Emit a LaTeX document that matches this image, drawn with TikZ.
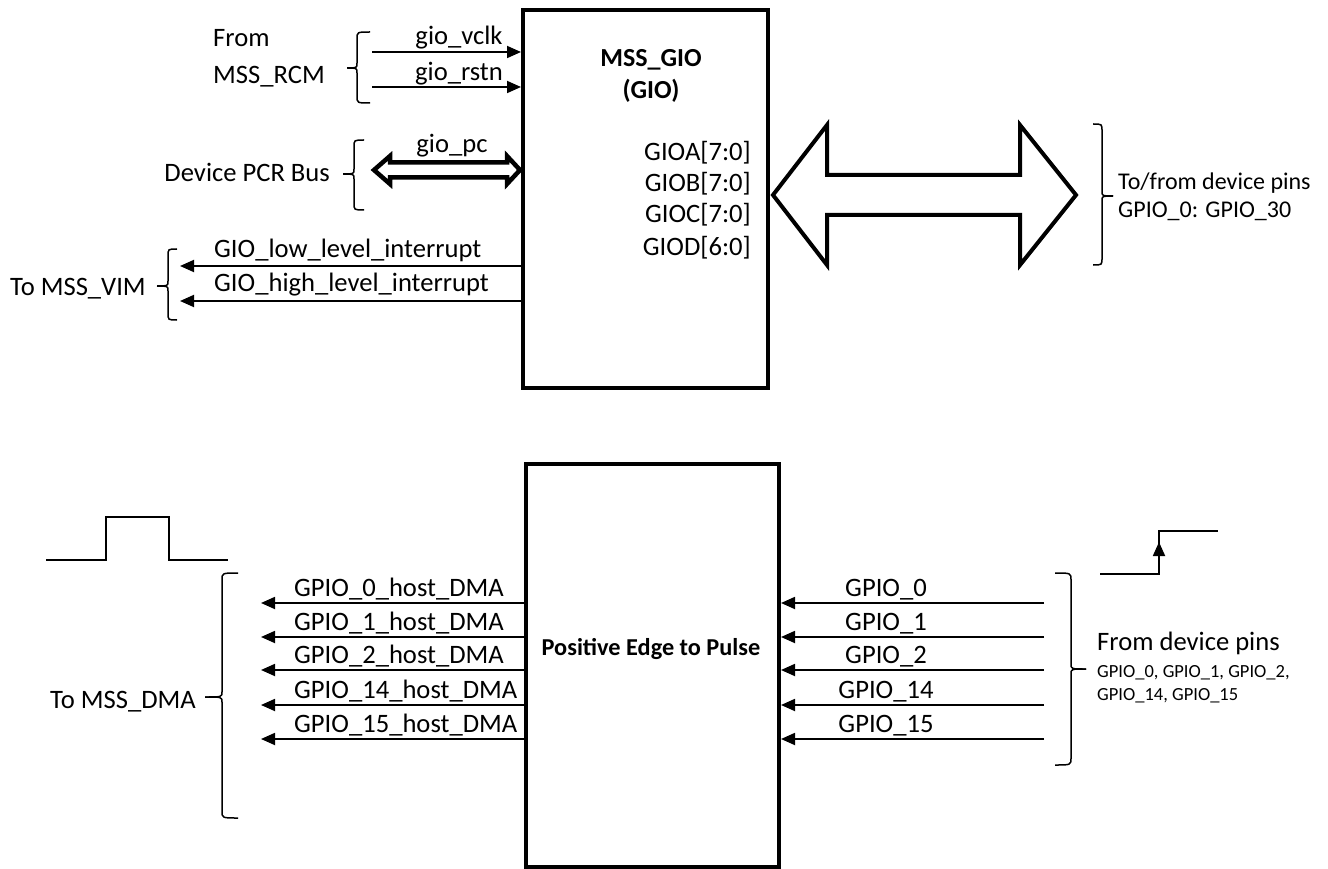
\documentclass[tikz,border=0pt]{standalone}
\usepackage{fontspec}
\setmainfont{Carlito}
\usetikzlibrary{arrows.meta}
\newcommand\BrL[6]{%
 \draw[brc] (#1,#3) .. controls (#2,#3) .. (#2,#3+7) -- (#2,#6-5) .. controls (#2,#6) .. (#5,#6);
 \draw[brc] (#5,#6) .. controls (#2,#6) .. (#2,#6+5) -- (#2,#4-7) .. controls (#2,#4) .. (#1,#4);}
\begin{document}
\begin{tikzpicture}[x=1pt,y=-1pt,
  lbl/.style={font=\fontsize{26.6}{30}\selectfont, inner sep=0pt},
  bld/.style={font=\fontsize{26}{30}\selectfont\bfseries, inner sep=0pt},
  mid/.style={font=\fontsize{24}{28}\selectfont, inner sep=0pt},
  sml/.style={font=\fontsize{18.5}{22}\selectfont, inner sep=0pt},
  blk/.style={draw, line width=4pt, inner sep=0pt},
  sig/.style={line width=1.8pt, -{Triangle[length=14pt,width=12pt]}},
  brc/.style={line width=1.5pt},
  wave/.style={line width=1.8pt},
  hollow/.style={draw, line width=4pt, fill=white, line join=miter}
]
\useasboundingbox (0,0) rectangle (1328,869);

% blocks
\node[blk, minimum width=245pt, minimum height=378pt] (gio) at (645.5,199) {};
\node[blk, minimum width=253pt, minimum height=403pt] (pep) at (652.5,665.5) {};
\node[bld, anchor=base] (gt1) at (651,67) {MSS\_GIO};
\node[bld, anchor=base] (gt2) at (651,99) {(GIO)};
\node[font=\fontsize{24.3}{28}\selectfont\bfseries, inner sep=0pt, anchor=base] (pt) at (651,655) {Positive Edge to Pulse};

% GIO ports
\node[lbl, anchor=base east] (pa) at (751,161) {GIOA[7:0]};
\node[lbl, anchor=base east] (pb) at (751,192) {GIOB[7:0]};
\node[lbl, anchor=base east] (pc) at (751,223) {GIOC[7:0]};
\node[lbl, anchor=base east] (pd) at (751,255) {GIOD[6:0]};

% big double arrow
\draw[hollow] (773,195) -- (827,125) -- (827,175) -- (1020,175) -- (1020,125) -- (1076,195)
  -- (1020,265) -- (1020,215) -- (827,215) -- (827,265) -- cycle;
\BrL{1093}{1102}{124}{265}{1113}{196}
\node[mid, anchor=base west] (tf1) at (1118,190) {To/from device pins};
\node[mid, anchor=base west] (tf2) at (1118,218) {GPIO\_0: GPIO\_30};

% from MSS_RCM
\node[lbl, anchor=base west] (fr1) at (213,47) {From};
\node[lbl, anchor=base west] (fr2) at (213,84) {MSS\_RCM};
\BrL{370}{357}{32}{103}{347}{68}
\coordinate (vclkS) at (372,52);
\coordinate (rstnS) at (372,87);
\draw[sig] (vclkS) -- (vclkS -| gio.west);
\draw[sig] (rstnS) -- (rstnS -| gio.west);
\node[lbl, anchor=base] (lv) at (459,45) {gio\_vclk};
\node[lbl, anchor=base] (lr) at (459,81) {gio\_rstn};

% PCR bus
\node[lbl, anchor=base east] (pcr) at (330,182) {Device PCR Bus};
\BrL{364}{354}{140}{210}{343}{174}
\draw[line width=4.5pt, fill=white, line join=miter] (374,170) -- (390,156) -- (390,162.5) -- (507,162.5) -- (507,156) -- (520,170)
  -- (507,184) -- (507,177.5) -- (390,177.5) -- (390,184) -- cycle;
\node[lbl, anchor=base] (lpc) at (452,153) {gio\_pc};

% to MSS_VIM
\coordinate (lowE) at (180,266);
\coordinate (highE) at (180,301);
\draw[sig] (lowE -| gio.west) -- (lowE);
\draw[sig] (highE -| gio.west) -- (highE);
\node[lbl, anchor=base west] (llow) at (214,258) {GIO\_low\_level\_interrupt};
\node[lbl, anchor=base west] (lhigh) at (214,291) {GIO\_high\_level\_interrupt};
\BrL{177}{168}{249}{320}{157}{286}
\node[lbl, anchor=base east] (vim) at (146,295) {To MSS\_VIM};

% bottom: outputs to DMA
\foreach \y/\n [count=\i] in {603/0,637/1,670/2,705/14,739/15} {
  \coordinate (dL\i) at (261,\y);
  \coordinate (dR\i) at (1044,\y);
  \draw[sig] (pep.west |- dL\i) -- (dL\i);
  \draw[sig] (dR\i) -- (dR\i -| pep.east);
  \node[lbl, anchor=base west] (hl\i) at (294,\y-7) {GPIO\_\n\_host\_DMA};
  \node[lbl, anchor=base] (gl\i) at (886,\y-7) {GPIO\_\n};
}
\BrL{238}{222}{573}{818}{205}{697}
\node[lbl, anchor=base east] (dma) at (196,708) {To MSS\_DMA};
\BrL{1055}{1071}{573}{765}{1086}{669}
\node[lbl, anchor=base west] (fdp) at (1097,650) {From device pins};
\node[sml, anchor=base west] (fd1) at (1097,677) {GPIO\_0, GPIO\_1, GPIO\_2,};
\node[sml, anchor=base west] (fd2) at (1097,700) {GPIO\_14, GPIO\_15};

% waveforms
\draw[wave] (46,560) -- (106,560) -- (106,517) -- (169,517) -- (169,560) -- (228,560);
\draw[wave] (1100,574) -- (1159,574) -- (1159,531) -- (1218,531);
\draw[line width=1.8pt, -{Triangle[length=14pt,width=12pt]}] (1159,570) -- (1159,542);
\end{tikzpicture}
\end{document}
